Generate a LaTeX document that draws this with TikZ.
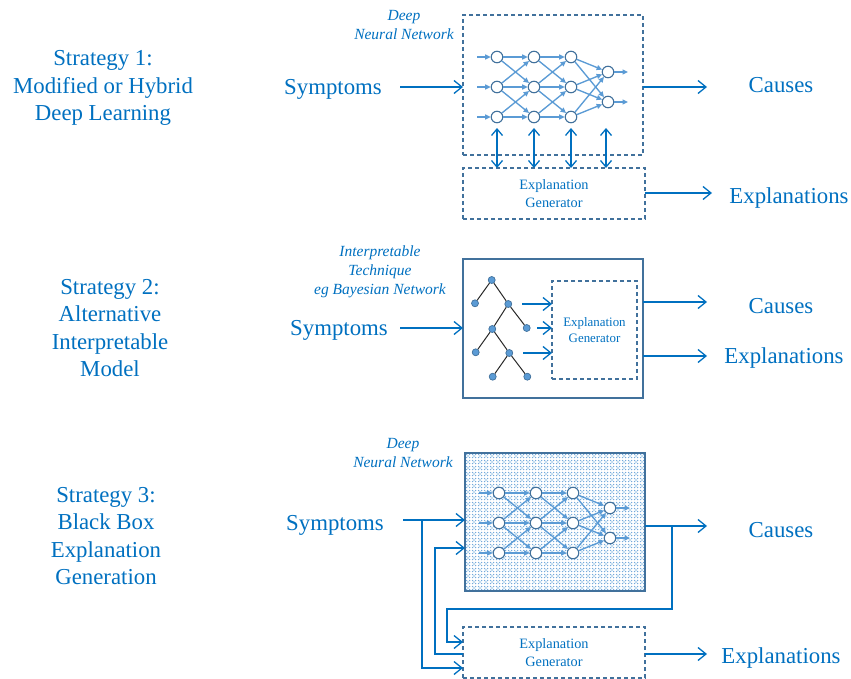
\documentclass[tikz,border=0pt]{standalone}
\usepackage{fontspec}
\setmainfont{Liberation Serif}
\usetikzlibrary{arrows.meta}
\definecolor{tblue}{RGB}{0,112,192}
\definecolor{lblue}{RGB}{91,155,213}
\definecolor{dblue}{RGB}{65,113,156}
\definecolor{tgray}{RGB}{40,40,40}

\newcommand\mynnet[3]{%
 \begin{scope}[shift={(#2,#3)}]
  \foreach \c/\x in {1/497,2/534,3/571}{
   \foreach \r/\y in {1/57,2/87,3/117}{
    \node[neuron] (#1-\c-\r) at (\x,\y) {};
   }
  }
  \node[neuron] (#1-4-1) at (608,72) {};
  \node[neuron] (#1-4-2) at (608,102) {};
  \foreach \r/\y in {1/57,2/87,3/117}{
   \coordinate (#1-in-\r) at (477,\y);
   \draw[nnedge] (#1-in-\r) -- (#1-1-\r);
  }
  \foreach \r/\y in {1/72,2/102}{
   \coordinate (#1-out-\r) at (628,\y);
   \draw[nnedge] (#1-4-\r) -- (#1-out-\r);
  }
  \foreach \c/\d in {1/2,2/3}{
   \foreach \r in {1,2,3}{
    \foreach \s in {1,2,3}{
     \pgfmathtruncatemacro\mydiff{abs(\r-\s)}
     \ifnum\mydiff<2 \draw[nnedge] (#1-\c-\r) -- (#1-\d-\s);\fi
    }
   }
  }
  \foreach \r in {1,2,3}{
   \foreach \s in {1,2}{
    \draw[nnedge] (#1-3-\r) -- (#1-4-\s);
   }
  }
 \end{scope}}

\begin{document}
\begin{tikzpicture}[x=1pt,y=-1pt,
  big/.style={font=\fontsize{22.8}{27.5}\selectfont, text=tblue, align=center, inner sep=0pt},
  ital/.style={font=\fontsize{15.5}{19}\selectfont\itshape, text=tblue, align=center, inner sep=0pt},
  small/.style={font=\fontsize{14.3}{17.5}\selectfont, text=tblue, align=center},
  tip/.style={-{Straight Barb[length=8pt,width=13pt,line width=1.3pt]}},
  arr/.style={draw=tblue, line width=1.4pt, tip},
  dbl/.style={draw=tblue, line width=1.4pt, {Straight Barb[length=6.5pt,width=11pt,line width=1.3pt]}-{Straight Barb[length=6.5pt,width=11pt,line width=1.3pt]}},
  dbox/.style={draw=dblue, dash pattern=on 4pt off 3pt, line width=1.2pt, inner sep=0pt, outer sep=0pt},
  sbox/.style={draw=dblue, line width=1.3pt, inner sep=0pt, outer sep=0pt},
  neuron/.style={circle, draw=dblue, fill=white, line width=1.1pt, minimum size=11.5pt, inner sep=0pt},
  nnedge/.style={draw=lblue, line width=1.35pt, -{Triangle[length=5.5pt,width=5pt]}},
  leaf/.style={circle, draw=dblue, fill=lblue, line width=0.7pt, minimum size=7pt, inner sep=0pt},
  tedge/.style={draw=tgray, line width=1pt},
]
\useasboundingbox (0,0) rectangle (851,679);

% ---------------- Strategy 1
\node[big] (lab1) at (103,88) {Strategy 1:\\Modified or Hybrid\\Deep Learning};
\node[ital] (dnn1) at (404,25) {Deep\\Neural Network};
\node[big] (sym1) at (333,89) {Symptoms};
\node[dbox, minimum width=180pt, minimum height=140pt] (nn1) at (553,85) {};
\node[dbox, small, minimum width=182pt, minimum height=51pt] (eg1) at (554,193.5) {Explanation\\Generator};
\mynnet{a}{0}{0}
\coordinate (s1) at (400,87);
\draw[arr] (s1) -- (s1 -| nn1.west);
\node[big] (cau1) at (781,85) {Causes};
\node[big] (exp1) at (789,198) {Explanations};
\coordinate (c1) at (707,87);
\draw[arr] (c1 -| nn1.east) -- (c1);
\coordinate (e1) at (712,193);
\draw[arr] (e1 -| eg1.east) -- (e1);
\foreach \i/\x in {1/497,2/534,3/571,4/606}{
  \coordinate (d\i) at (\x,128);
  \draw[dbl] (d\i) -- (d\i |- eg1.north);
}

% ---------------- Strategy 2
\node[big] (lab2) at (110,328) {Strategy 2:\\Alternative\\Interpretable\\Model};
\node[ital] (itl2) at (380,272) {Interpretable\\Technique\\eg Bayesian Network};
\node[big] (sym2) at (339,330) {Symptoms};
\node[sbox, minimum width=180pt, minimum height=139pt] (im2) at (553,328.5) {};
\node[dbox, font=\fontsize{12.9}{16}\selectfont, text=tblue, align=center, minimum width=85pt, minimum height=98pt] (eg2) at (594.5,330) {Explanation\\Generator};
\coordinate (s2) at (400,328);
\draw[arr] (s2) -- (s2 -| im2.west);
\node[leaf] (tr) at (491.7,280) {};
\node[leaf] (ta) at (475,303.3) {};
\node[leaf] (tb) at (508.3,304) {};
\node[leaf] (tc) at (492.3,329) {};
\node[leaf] (td) at (526.7,328) {};
\node[leaf] (te) at (475.7,352.3) {};
\node[leaf] (tf) at (509.3,353) {};
\node[leaf] (tg) at (492.7,376.7) {};
\node[leaf] (th) at (527.3,376.7) {};
\draw[tedge] (tr) -- (ta);
\draw[tedge] (tr) -- (tb);
\draw[tedge] (tb) -- (tc);
\draw[tedge] (tb) -- (td);
\draw[tedge] (tc) -- (te);
\draw[tedge] (tc) -- (tf);
\draw[tedge] (tf) -- (tg);
\draw[tedge] (tf) -- (th);
\coordinate (ta1) at (522,304);
\coordinate (ta2) at (537,328);
\coordinate (ta3) at (523,353);
\draw[arr] (ta1) -- (ta1 -| eg2.west);
\draw[arr] (ta2) -- (ta2 -| eg2.west);
\draw[arr] (ta3) -- (ta3 -| eg2.west);
\node[big] (cau2) at (781,306) {Causes};
\node[big] (exp2) at (784,358) {Explanations};
\coordinate (c2) at (707,302);
\coordinate (e2) at (707,356);
\draw[arr] (c2 -| im2.east) -- (c2);
\draw[arr] (e2 -| im2.east) -- (e2);

% ---------------- Strategy 3
\node[big] (lab3) at (106,536) {Strategy 3:\\Black Box\\Explanation\\Generation};
\node[ital] (dnn3) at (403,453) {Deep\\Neural Network};
\node[big] (sym3) at (335,525) {Symptoms};
\node[sbox, minimum width=180pt, minimum height=138pt] (nn3) at (555,522) {};
\begin{scope}
  \clip (nn3.north west) rectangle (nn3.south east);
  \fill[lblue!85] \foreach \i in {0,...,60}{ \foreach \j in {0,...,46}{ (466.5+3*\i,454.5+3*\j) circle (0.75pt) } };
  \fill[tblue] \foreach \i in {0,...,30}{ \foreach \j in {0,...,23}{ (468+6*\i,456+6*\j) circle (0.6pt) } };
\end{scope}
\draw[sbox] (nn3.north west) rectangle (nn3.south east);
\mynnet{b}{2}{436}
\node[dbox, small, minimum width=182pt, minimum height=51pt] (eg3) at (554,652.5) {Explanation\\Generator};
\coordinate (s3) at (403,520);
\draw[arr] (s3) -- (s3 -| nn3.west);
\coordinate (s3b) at (422,520);
\coordinate (b1) at (422,668);
\draw[arr] (s3b) -- (b1) -- (b1 -| eg3.west);
\coordinate (f1) at (435,654);
\coordinate (f2) at (435,548);
\draw[arr] (f1 -| eg3.west) -- (f1) -- (f2) -- (f2 -| nn3.west);
\coordinate (c3) at (707,526);
\draw[arr] (c3 -| nn3.east) -- (c3);
\coordinate (o1) at (672,526);
\coordinate (o2) at (672,609);
\coordinate (o3) at (447,609);
\coordinate (o4) at (447,642);
\draw[arr] (o1) -- (o2) -- (o3) -- (o4) -- (o4 -| eg3.west);
\coordinate (e3) at (707,654);
\draw[arr] (e3 -| eg3.east) -- (e3);
\node[big] (cau3) at (781,530) {Causes};
\node[big] (exp3) at (781,658) {Explanations};
\end{tikzpicture}
\end{document}
